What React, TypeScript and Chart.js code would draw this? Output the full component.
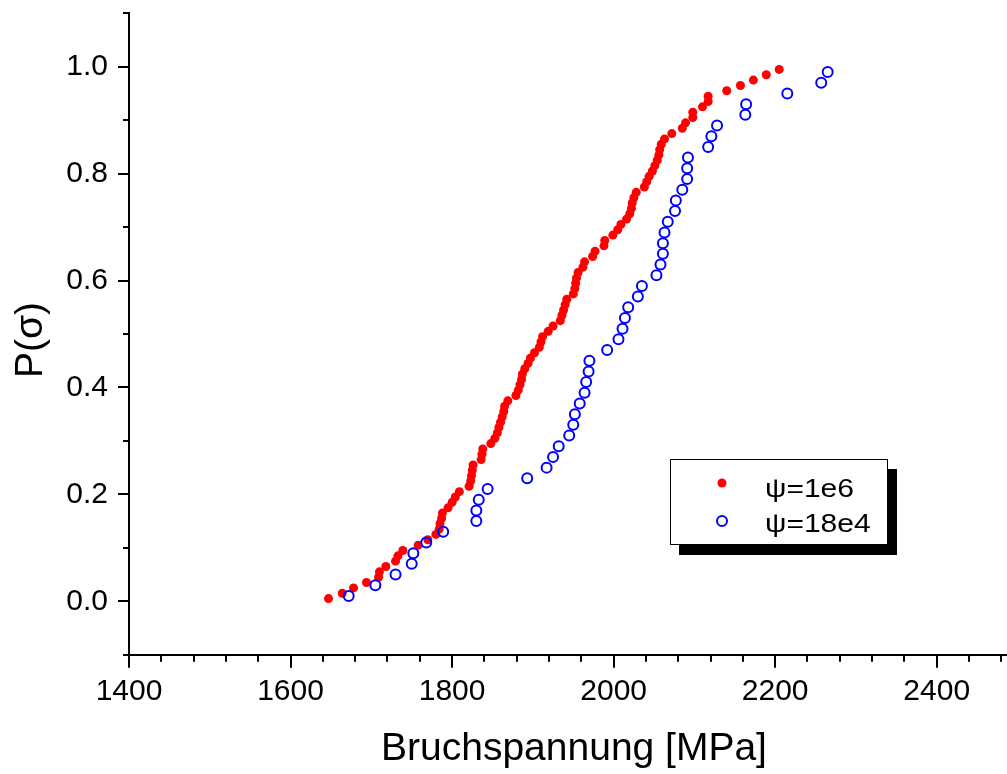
import React, { useEffect, useRef } from "react";
import { Chart, registerables } from "chart.js";

Chart.register(...registerables);

// ---- data ----
const redX = [
  1647, 1664, 1678, 1694, 1709, 1710, 1718, 1730, 1733, 1739,
  1758, 1770, 1780, 1784, 1785, 1787, 1788, 1795, 1800, 1804,
  1809, 1821, 1823, 1824, 1825, 1826, 1836, 1837, 1838, 1848,
  1853, 1856, 1858, 1860, 1862, 1864, 1865, 1869, 1879, 1882,
  1884, 1886, 1887, 1890, 1894, 1897, 1902, 1908, 1910, 1912,
  1919, 1925, 1934, 1936, 1938, 1940, 1942, 1950, 1952, 1953,
  1954, 1956, 1962, 1964, 1974, 1977, 1988, 1989, 1999, 2005,
  2009, 2016, 2020, 2022, 2023, 2025, 2028, 2038, 2041, 2044,
  2048, 2051, 2054, 2056, 2057, 2059, 2063, 2072, 2085, 2089,
  2098, 2098, 2110, 2117, 2117, 2140, 2157, 2173, 2189, 2205,
];
const redY = [
  0.005, 0.015, 0.025, 0.035, 0.045, 0.055, 0.065, 0.075, 0.085, 0.095,
  0.105, 0.115, 0.125, 0.135, 0.145, 0.155, 0.165, 0.175, 0.185, 0.195,
  0.205, 0.215, 0.225, 0.235, 0.245, 0.255, 0.265, 0.275, 0.285, 0.295,
  0.305, 0.315, 0.325, 0.335, 0.345, 0.355, 0.365, 0.375, 0.385, 0.395,
  0.405, 0.415, 0.425, 0.435, 0.445, 0.455, 0.465, 0.475, 0.485, 0.495,
  0.505, 0.515, 0.525, 0.535, 0.545, 0.555, 0.565, 0.575, 0.585, 0.595,
  0.605, 0.615, 0.625, 0.635, 0.645, 0.655, 0.665, 0.675, 0.685, 0.695,
  0.705, 0.715, 0.725, 0.735, 0.745, 0.755, 0.765, 0.775, 0.785, 0.795,
  0.805, 0.815, 0.825, 0.835, 0.845, 0.855, 0.865, 0.875, 0.885, 0.895,
  0.905, 0.915, 0.925, 0.935, 0.945, 0.955, 0.965, 0.975, 0.985, 0.995,
];
const blueX = [
  1672, 1705, 1730, 1750, 1752, 1768, 1789, 1830, 1830, 1833,
  1844, 1893, 1917, 1925, 1932, 1945, 1950, 1952, 1958, 1964,
  1966, 1969, 1970, 1992, 2006, 2011, 2014, 2018, 2030, 2035,
  2053, 2058, 2061, 2061, 2063, 2067, 2076, 2077, 2085, 2091,
  2091, 2092, 2117, 2121, 2128, 2163, 2164, 2215, 2257, 2265,
];
const blueY = [
  0.01, 0.03, 0.05, 0.07, 0.09, 0.11, 0.13, 0.15, 0.17, 0.19,
  0.21, 0.23, 0.25, 0.27, 0.29, 0.31, 0.33, 0.35, 0.37, 0.39,
  0.41, 0.43, 0.45, 0.47, 0.49, 0.51, 0.53, 0.55, 0.57, 0.59,
  0.61, 0.63, 0.65, 0.67, 0.69, 0.71, 0.73, 0.75, 0.77, 0.79,
  0.81, 0.83, 0.85, 0.87, 0.89, 0.91, 0.93, 0.95, 0.97, 0.99,
];
const xTickLabels = [1400, 1600, 1800, 2000, 2200, 2400];
const yTickLabels = [0.0, 0.2, 0.4, 0.6, 0.8, 1.0];
const xMinorTicks = [
  1440, 1480, 1520, 1560, 1640, 1680, 1720, 1760, 1840, 1880, 1920, 1960,
  2040, 2080, 2120, 2160, 2240, 2280, 2320, 2360, 2440, 2480,
];
const yMinorTicks = [-0.1, 0.1, 0.3, 0.5, 0.7, 0.9, 1.1];
const seriesNames = ["ψ=1e6", "ψ=18e4"];
const xTitle = "Bruchspannung [MPa]";
const yTitle = "P(σ)";

const FONT = '"Liberation Sans", Arial, sans-serif';
const RED = "#ff0000";
const BLUE = "#0000ff";

const decorPlugin = {
  id: "decor",
  afterDraw(chart: any) {
    const ctx: CanvasRenderingContext2D = chart.ctx;
    const xs = chart.scales.x;
    const ys = chart.scales.y;
    const ca = chart.chartArea;
    ctx.save();
    ctx.strokeStyle = "#000";
    ctx.lineWidth = 2;
    ctx.beginPath();
    xTickLabels.forEach((v) => {
      const px = Math.round(xs.getPixelForValue(v));
      ctx.moveTo(px, ca.bottom);
      ctx.lineTo(px, ca.bottom + 13);
    });
    xMinorTicks.forEach((v) => {
      const px = Math.round(xs.getPixelForValue(v));
      ctx.moveTo(px, ca.bottom);
      ctx.lineTo(px, ca.bottom + 7);
    });
    yTickLabels.forEach((v) => {
      const py = Math.round(ys.getPixelForValue(v));
      ctx.moveTo(ca.left, py);
      ctx.lineTo(ca.left - 11, py);
    });
    yMinorTicks.forEach((v) => {
      const py = Math.round(ys.getPixelForValue(v));
      ctx.moveTo(ca.left, py);
      ctx.lineTo(ca.left - 6, py);
    });
    ctx.stroke();

    // axis titles
    ctx.fillStyle = "#000";
    ctx.font = `39px ${FONT}`;
    ctx.textAlign = "center";
    ctx.textBaseline = "alphabetic";
    ctx.fillText(xTitle, 574, 760);
    ctx.save();
    ctx.translate(42, 340);
    ctx.rotate(-Math.PI / 2);
    ctx.fillText(yTitle, 0, 0);
    ctx.restore();

    // legend box with shadow
    const bx = 670, by = 459, bw = 218, bh = 86;
    ctx.fillStyle = "#000";
    ctx.fillRect(bx + 9, by + 10, bw, bh);
    ctx.fillStyle = "#fff";
    ctx.fillRect(bx, by, bw, bh);
    ctx.lineWidth = 1;
    ctx.strokeStyle = "#000";
    ctx.strokeRect(bx + 0.5, by + 0.5, bw - 1, bh - 1);

    // entries
    ctx.fillStyle = RED;
    ctx.beginPath();
    ctx.arc(722, 483, 4.5, 0, Math.PI * 2);
    ctx.fill();
    ctx.strokeStyle = BLUE;
    ctx.lineWidth = 2;
    ctx.beginPath();
    ctx.arc(722, 521, 5, 0, Math.PI * 2);
    ctx.stroke();

    ctx.fillStyle = "#000";
    ctx.font = `25px ${FONT}`;
    ctx.textAlign = "left";
    [
      [seriesNames[0], 497],
      [seriesNames[1], 532],
    ].forEach(([t, y]) => {
      ctx.save();
      ctx.translate(765, y as number);
      ctx.scale(1.2, 1);
      ctx.fillText(t as string, 0, 0);
      ctx.restore();
    });
    ctx.restore();
  },
};

export default function App() {
  const ref = useRef<HTMLCanvasElement>(null);
  useEffect(() => {
    if (!ref.current) return;
    const chart = new Chart(ref.current, {
      type: "scatter",
      data: {
        datasets: [
          {
            label: seriesNames[0],
            data: redX.map((x, i) => ({ x, y: redY[i] })),
            pointRadius: 4.5,
            pointHoverRadius: 4.5,
            pointBackgroundColor: RED,
            pointBorderWidth: 0,
            pointBorderColor: RED,
            showLine: false,
            order: 2,
          },
          {
            label: seriesNames[1],
            data: blueX.map((x, i) => ({ x, y: blueY[i] })),
            pointRadius: 5,
            pointHoverRadius: 5,
            pointBackgroundColor: "rgba(0,0,0,0)",
            pointBorderColor: BLUE,
            pointBorderWidth: 2,
            showLine: false,
            order: 1,
          },
        ],
      },
      options: {
        animation: false,
        responsive: false,
        devicePixelRatio: 1,
        layout: { autoPadding: false, padding: { top: 13.3, right: 0, left: 0, bottom: 0 } },
        plugins: { legend: { display: false }, tooltip: { enabled: false } },
        scales: {
          x: {
            type: "linear",
            min: 1400,
            max: 2487,
            afterFit: (s: any) => {
              s.height = 119.3;
              s.paddingLeft = 0;
              s.paddingRight = 0;
              s.paddingTop = 0;
              s.paddingBottom = 0;
            },
            afterBuildTicks: (s: any) => {
              s.ticks = xTickLabels.map((v) => ({ value: v }));
            },
            grid: { display: false, drawTicks: false },
            border: { display: true, color: "#000", width: 2 },
            ticks: {
              padding: 19,
              color: "#000",
              font: { family: FONT, size: 30 },
              maxRotation: 0,
              autoSkip: false,
              callback: (v: any) => String(v),
            },
          },
          y: {
            type: "linear",
            min: -0.1,
            max: 1.1,
            afterFit: (s: any) => {
              s.width = 129;
              s.paddingLeft = 0;
              s.paddingRight = 0;
              s.paddingTop = 0;
              s.paddingBottom = 0;
            },
            afterBuildTicks: (s: any) => {
              s.ticks = yTickLabels.map((v) => ({ value: v }));
            },
            grid: { display: false, drawTicks: false },
            border: { display: true, color: "#000", width: 2 },
            ticks: {
              padding: 21,
              color: "#000",
              font: { family: FONT, size: 30 },
              autoSkip: false,
              callback: (v: any) => Number(v).toFixed(1),
            },
          },
        },
      },
      plugins: [decorPlugin],
    });
    return () => chart.destroy();
  }, []);
  return (
    <div style={{ position: "fixed", left: 0, top: 0, width: 1007, height: 774, background: "#fff" }}>
      <canvas ref={ref} width={1007} height={774} style={{ display: "block", width: 1007, height: 774 }} />
    </div>
  );
}
